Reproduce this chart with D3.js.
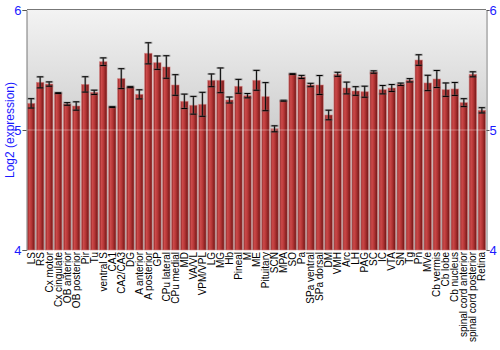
<!DOCTYPE html>
<html>
<head>
<meta charset="utf-8">
<script src="https://cdn.jsdelivr.net/npm/d3@7"></script>
<style>
  body { margin: 0; background: #fff; }
  svg { display: block; }
</style>
</head>
<body>
<div class="chart"></div>
<script>
const regions = ['LS', 'RS', 'Cx motor', 'Cx cingulate', 'OB anterior', 'OB posterior', 'Pir', 'Tu',
  'ventral S', 'CA1', 'CA2/CA3', 'DG', 'A anterior', 'A posterior', 'GP', 'CPu lateral', 'CPu medial',
  'MD', 'VA/VL', 'VPM/VPL', 'LG', 'MG', 'Hb', 'Pineal', 'M', 'ME', 'Pituitary', 'SCN', 'MPA', 'SO',
  'Pa', 'SPa ventral', 'SPa dorsal', 'DM', 'VMH', 'Arc', 'LH', 'PAG', 'SC', 'IC', 'VTA', 'SN', 'Tg',
  'Pn', 'MVe', 'Cb vermis', 'Cb lobe', 'Cb nucleus', 'spinal cord anterior', 'spinal cord posterior', 'Retina']

const expression = [5.222, 5.397, 5.383, 5.308, 5.217, 5.200, 5.380, 5.314,
  5.569, 5.192, 5.428, 5.358, 5.297, 5.639, 5.561, 5.525, 5.375,
  5.239, 5.206, 5.214, 5.414, 5.414, 5.250, 5.364, 5.286, 5.414, 5.278, 5.010, 5.244, 5.467,
  5.442, 5.375, 5.375, 5.125, 5.464, 5.350, 5.325, 5.319, 5.483, 5.336, 5.350, 5.381, 5.414,
  5.583, 5.392, 5.425, 5.336, 5.342, 5.228, 5.464, 5.164]

const stdErr = [0.039, 0.046, 0.018, 0.004, 0.011, 0.035, 0.064, 0.018,
  0.032, 0.004, 0.083, 0.005, 0.038, 0.088, 0.056, 0.094, 0.086,
  0.060, 0.074, 0.100, 0.053, 0.103, 0.025, 0.058, 0.018, 0.083, 0.117, 0.025, 0.004, 0.004,
  0.013, 0.014, 0.079, 0.040, 0.017, 0.049, 0.036, 0.046, 0.010, 0.035, 0.029, 0.010, 0.014,
  0.044, 0.064, 0.071, 0.056, 0.054, 0.033, 0.021, 0.022]

const yTicks = [4, 5, 6]
const yTitle = 'Log2 (expression)'

const width = 500
const height = 350
const margin = {top: 10, right: 14, bottom: 100, left: 27}

let data = regions.map((r, i) => ({name: r, value: expression[i], err: stdErr[i]}))

let svg = d3.select('.chart')
	.append('svg')
	.attr('width', width)
	.attr('height', height)

let x = d3.scaleBand()
	.domain(regions)
	.range([margin.left, width - margin.right])
	.paddingInner(0.18)
	.paddingOuter(0.05)

let y = d3.scaleLinear()
	.domain([4, 6])
	.range([height - margin.bottom, margin.top])

let defs = svg.append('defs')

let bg = defs.append('linearGradient')
	.attr('id', 'bg')
	.attr('x1', 0).attr('y1', 0).attr('x2', 0).attr('y2', 1)
bg.append('stop').attr('offset', '0%').attr('stop-color', '#f3f3f3')
bg.append('stop').attr('offset', '100%').attr('stop-color', '#a9a9a9')

let barGrad = defs.append('linearGradient')
	.attr('id', 'bar')
	.attr('x1', 0).attr('y1', 0).attr('x2', 1).attr('y2', 0)
barGrad.append('stop').attr('offset', '0%').attr('stop-color', '#8c2222')
barGrad.append('stop').attr('offset', '25%').attr('stop-color', '#cc4a4a')
barGrad.append('stop').attr('offset', '55%').attr('stop-color', '#b53636')
barGrad.append('stop').attr('offset', '100%').attr('stop-color', '#6e1414')

// plot background
svg.append('rect')
	.attr('x', x.range()[0])
	.attr('y', y(6))
	.attr('width', x.range()[1] - x.range()[0])
	.attr('height', y(4) - y(6))
	.attr('fill', 'url(#bg)')

// bars
svg.selectAll('.bar')
	.data(data)
	.enter().append('rect')
	.attr('class', 'bar')
	.attr('x', (d) => x(d.name))
	.attr('y', (d) => y(d.value))
	.attr('width', x.bandwidth())
	.attr('height', (d) => y(4) - y(d.value))
	.attr('fill', 'url(#bar)')
	.attr('stroke', '#d88080')
	.attr('stroke-opacity', 0.7)
	.attr('stroke-width', 0.8)

// faint grid line at 5
svg.append('line')
	.attr('x1', x.range()[0])
	.attr('x2', x.range()[1])
	.attr('y1', y(5))
	.attr('y2', y(5))
	.attr('stroke', '#ffffff')
	.attr('stroke-opacity', 0.35)

// error bars
let err = svg.selectAll('.err')
	.data(data)
	.enter().append('g')
	.attr('class', 'err')
	.attr('transform', (d) => 'translate(' + (x(d.name) + x.bandwidth() / 2) + ',0)')

err.append('line')
	.attr('y1', (d) => y(d.value + d.err))
	.attr('y2', (d) => y(d.value - d.err))
	.attr('stroke', '#555')
	.attr('stroke-width', 2)
	.attr('stroke-opacity', 0.5)
err.append('line')
	.attr('y1', (d) => y(d.value + d.err))
	.attr('y2', (d) => y(d.value - d.err))
	.attr('stroke', '#111')
	.attr('stroke-width', 1)
;['top', 'bottom'].forEach((side) => {
	let yy = (d) => y(side === 'top' ? d.value + d.err : d.value - d.err)
	err.append('line')
		.attr('x1', -4).attr('x2', 4)
		.attr('y1', yy).attr('y2', yy)
		.attr('stroke', '#666')
		.attr('stroke-width', 2)
		.attr('stroke-opacity', 0.5)
	err.append('line')
		.attr('x1', -3).attr('x2', 3)
		.attr('y1', yy).attr('y2', yy)
		.attr('stroke', '#000')
		.attr('stroke-width', 1)
})

// frame
svg.append('line')
	.attr('x1', x.range()[0]).attr('x2', x.range()[1])
	.attr('y1', y(6) - 0.5).attr('y2', y(6) - 0.5)
	.attr('stroke', '#777')

let leftAxis = svg.append('g')
	.attr('transform', 'translate(' + (x.range()[0] - 0.5) + ',0)')
	.call(d3.axisLeft(y).tickValues(yTicks).tickFormat(d3.format('d')).tickSizeOuter(0).tickSize(4))
let rightAxis = svg.append('g')
	.attr('transform', 'translate(' + (x.range()[1] + 0.5) + ',0)')
	.call(d3.axisRight(y).tickValues(yTicks).tickFormat(d3.format('d')).tickSizeOuter(0).tickSize(3))

;[leftAxis, rightAxis].forEach((a) => {
	a.select('.domain').attr('stroke', '#777')
	a.selectAll('.tick line').attr('stroke', '#555')
	a.selectAll('.tick text')
		.attr('fill', '#1a1aff')
		.style('font-family', '"Liberation Sans", Arial, sans-serif')
		.style('font-size', '13px')
})
leftAxis.selectAll('.tick text').attr('x', -5)
rightAxis.selectAll('.tick text').attr('x', 3)

// category labels
svg.selectAll('.xlabel')
	.data(regions)
	.enter().append('text')
	.attr('class', 'xlabel')
	.attr('transform', (d) => 'translate(' + (x(d) + x.bandwidth() / 2 + 3.5) + ',' + (y(4) + 2) + ') rotate(-90)')
	.attr('text-anchor', 'end')
	.style('font-family', '"Liberation Sans", Arial, sans-serif')
	.style('font-size', '10px')
	.attr('fill', '#000')
	.text((d) => d)

svg.append('text')
	.attr('transform', 'translate(14,' + y(5) + ') rotate(-90)')
	.attr('text-anchor', 'middle')
	.style('font-family', '"Liberation Sans", Arial, sans-serif')
	.style('font-size', '12px')
	.attr('fill', '#1a1aff')
	.text(yTitle)
</script>
</body>
</html>
